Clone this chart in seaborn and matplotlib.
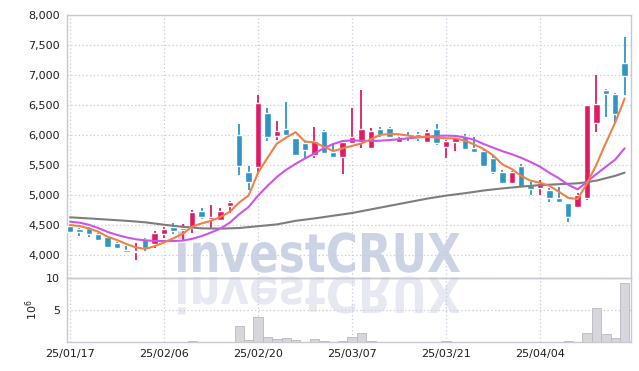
import numpy as np
import pandas as pd
import matplotlib
matplotlib.use("Agg")
import matplotlib.pyplot as plt
import seaborn as sns
from matplotlib.textpath import TextPath
from matplotlib.patches import PathPatch
from matplotlib.font_manager import FontProperties
import matplotlib.transforms as mtransforms
from matplotlib.ticker import FuncFormatter

dates = ["2025-01-17", "2025-01-20", "2025-01-21", "2025-01-22", "2025-01-23", "2025-01-24", "2025-01-31",
         "2025-02-03", "2025-02-04", "2025-02-05", "2025-02-06", "2025-02-07",
         "2025-02-10", "2025-02-11", "2025-02-12", "2025-02-13", "2025-02-14",
         "2025-02-17", "2025-02-18", "2025-02-19", "2025-02-20", "2025-02-21",
         "2025-02-24", "2025-02-25", "2025-02-26", "2025-02-27", "2025-02-28",
         "2025-03-04", "2025-03-05", "2025-03-06", "2025-03-07",
         "2025-03-10", "2025-03-11", "2025-03-12", "2025-03-13", "2025-03-14",
         "2025-03-17", "2025-03-18", "2025-03-19", "2025-03-20", "2025-03-21",
         "2025-03-24", "2025-03-25", "2025-03-26", "2025-03-27", "2025-03-28", "2025-03-31",
         "2025-04-01", "2025-04-02", "2025-04-03", "2025-04-04",
         "2025-04-07", "2025-04-08", "2025-04-09", "2025-04-10", "2025-04-11",
         "2025-04-14", "2025-04-15", "2025-04-16", "2025-04-17"]

opens = [4483, 4433, 4444, 4350, 4300, 4200, 4083, 4044, 4270, 4180,
         4350, 4460, 4410, 4456, 4733, 4606, 4589, 4822, 6000, 5389,
         5472, 6361, 5989, 6094, 5944, 5872, 5667, 6067, 5717, 5628,
         5861, 5889, 5789, 6094, 6111, 5889, 5989, 6017, 5889, 6094,
         5806, 5889, 5990, 5789, 5733, 5622, 5378, 5200, 5489, 5167,
         5111, 5083, 4944, 4861, 4794, 4944, 6194, 6750, 6683, 7206]
highs = [4500, 4445, 4460, 4367, 4322, 4222, 4155, 4194, 4289, 4400,
         4472, 4540, 4520, 4750, 4778, 4833, 4778, 4906, 6183, 5483,
         6667, 6456, 6239, 6556, 5944, 5889, 6139, 6083, 5861, 5917,
         6456, 6750, 6111, 6139, 6139, 5972, 6056, 6056, 6083, 6178,
         5917, 5983, 6010, 5972, 5761, 5667, 5417, 5395, 5511, 5222,
         5250, 5111, 5128, 4861, 5028, 6500, 7000, 6761, 6706, 7639]
lows = [4380, 4322, 4305, 4244, 4122, 4094, 4044, 3917, 4067, 4122,
        4278, 4350, 4239, 4372, 4594, 4444, 4583, 4706, 5333, 5083,
        5350, 5900, 5917, 5990, 5650, 5594, 5622, 5694, 5628, 5350,
        5861, 5778, 5778, 5972, 5944, 5889, 5906, 5906, 5878, 5833,
        5611, 5739, 5750, 5700, 5472, 5344, 5183, 5190, 5122, 5000,
        5000, 4889, 4861, 4544, 4778, 4917, 6044, 6294, 6194, 6667]
closes = [4390, 4390, 4344, 4255, 4139, 4122, 4055, 4070, 4120, 4370,
          4430, 4405, 4450, 4711, 4640, 4639, 4733, 4883, 5489, 5222,
          6528, 5972, 6067, 6000, 5667, 5750, 5900, 5706, 5640, 5889,
          5961, 6094, 6067, 6000, 5961, 5944, 5972, 5944, 6056, 5861,
          5900, 5961, 5767, 5722, 5489, 5378, 5200, 5378, 5139, 5100,
          5206, 4944, 4889, 4628, 5000, 6500, 6517, 6678, 6350, 6989]
volume_m = [0.05, 0.04, 0.04, 0.04, 0.04, 0.04, 0.04, 0.04, 0.05, 0.05,
            0.05, 0.05, 0.06, 0.2, 0.06, 0.06, 0.06, 0.1, 2.55, 0.36,
            3.9, 0.78, 0.47, 0.62, 0.3, 0.1, 0.47, 0.16, 0.05, 0.16,
            0.78, 1.4, 0.16, 0.1, 0.06, 0.05, 0.05, 0.05, 0.05, 0.06,
            0.16, 0.06, 0.05, 0.05, 0.06, 0.05, 0.05, 0.05, 0.05, 0.05,
            0.06, 0.05, 0.05, 0.16, 0.06, 1.4, 5.3, 1.25, 0.62, 9.2]
ma5 = [4500, 4483, 4444, 4389, 4304, 4250, 4183, 4128, 4101, 4147,
       4209, 4279, 4355, 4473, 4527, 4569, 4634, 4720, 4876, 4992,
       5370, 5618, 5856, 5958, 6047, 5891, 5877, 5805, 5733, 5777,
       5819, 5858, 5930, 6002, 6017, 6013, 5989, 5964, 5975, 5955,
       5947, 5944, 5909, 5842, 5767, 5663, 5511, 5433, 5317, 5239,
       5205, 5153, 5056, 4953, 4933, 5192, 5507, 5865, 6209, 6607]
ma20 = [4556, 4539, 4505, 4450, 4385, 4335, 4295, 4262, 4245, 4235,
        4233, 4233, 4240, 4270, 4315, 4375, 4440, 4540, 4680, 4800,
        4990, 5150, 5300, 5420, 5520, 5610, 5690, 5780, 5850, 5900,
        5910, 5905, 5900, 5905, 5915, 5930, 5945, 5960, 5970, 5985,
        5990, 5985, 5960, 5920, 5850, 5790, 5730, 5680, 5620, 5550,
        5472, 5370, 5280, 5170, 5094, 5220, 5350, 5470, 5590, 5778]
ma60 = [4628, 4619, 4610, 4600, 4590, 4580, 4570, 4558, 4545, 4525,
        4505, 4487, 4470, 4457, 4445, 4442, 4440, 4445, 4450, 4465,
        4480, 4495, 4510, 4540, 4570, 4590, 4610, 4632, 4655, 4677,
        4700, 4730, 4760, 4790, 4820, 4850, 4880, 4910, 4940, 4965,
        4990, 5010, 5030, 5052, 5075, 5093, 5110, 5125, 5140, 5153,
        5165, 5172, 5180, 5187, 5195, 5215, 5240, 5280, 5320, 5372]
price_ticks = [4000, 4500, 5000, 5500, 6000, 6500, 7000, 7500, 8000]
vol_ticks = [5, 10]
date_ticks = [0, 10, 20, 30, 40, 50]

df = pd.DataFrame({"date": pd.to_datetime(dates), "open": opens, "high": highs,
                   "low": lows, "close": closes, "vol": volume_m,
                   "ma5": ma5, "ma20": ma20, "ma60": ma60})
df["idx"] = np.arange(len(df))

sns.set_style("white")
plt.rcParams["font.family"] = ["DejaVu Sans"]

W, H = 639, 371
fig = plt.figure(figsize=(W / 100, H / 100), dpi=100)
fig.patch.set_facecolor("white")
ax = fig.add_axes([67 / W, 1 - 278 / H, 564 / W, 263 / H])
axv = fig.add_axes([67 / W, 1 - 342.3 / H, 564 / W, 64.3 / H], sharex=ax)
for a in (ax, axv):
    a.set_facecolor("none")

# watermark with reflection
fp = FontProperties(family="DejaVu Sans", weight="bold")
tp = TextPath((0, 0), "investCRUX", size=100, prop=fp)
bb = tp.get_extents()
cap = TextPath((0, 0), "X", size=100, prop=fp).get_extents().y1
sx = (460 - 178) / (bb.x1 - bb.x0)
t_main = mtransforms.Affine2D().translate(-bb.x0, 0).scale(sx, 39 / cap).translate(178, H - 272)
fig.add_artist(PathPatch(tp, transform=t_main, facecolor="#ccd3e5", edgecolor="none", zorder=-5))
t_ref = mtransforms.Affine2D().translate(-bb.x0, 0).scale(sx, -36 / cap).translate(178, H - 277)
fig.add_artist(PathPatch(tp, transform=t_ref, facecolor="#e6e9f1", edgecolor="none", zorder=-5))

up_c, dn_c = "#e21a63", "#2f95c6"
colors = [up_c if c >= o else dn_c for o, c in zip(df["open"], df["close"])]
body_lo = np.minimum(df["open"], df["close"])
body_h = np.maximum(np.abs(df["close"] - df["open"]), 12)
ax.vlines(df["idx"], df["low"], df["high"], colors=colors, lw=1.3, zorder=3)
ax.bar(df["idx"], body_h, bottom=body_lo, width=0.7, color=colors, zorder=4)

sns.lineplot(data=df, x="idx", y="ma60", ax=ax, color="#7d7d7d", lw=1.5, zorder=5)
sns.lineplot(data=df, x="idx", y="ma20", ax=ax, color="#cc55e8", lw=1.5, zorder=5)
sns.lineplot(data=df, x="idx", y="ma5", ax=ax, color="#ef8145", lw=1.5, zorder=6)

axv.bar(df["idx"], df["vol"], width=1.0, color="#d6d6dc", edgecolor="#b8b8c0", lw=0.6, zorder=3)

ax.set_xlim(-0.32, 59.68)
ax.set_ylim(3617, 8000)
axv.set_ylim(0, 10)

ax.set_yticks(price_ticks)
ax.yaxis.set_major_formatter(FuncFormatter(lambda v, p: f"{v:,.0f}"))
axv.set_yticks(vol_ticks)
axv.set_xticks(date_ticks)
axv.set_xticklabels([df["date"][i].strftime("%y/%m/%d") for i in date_ticks])
plt.setp(ax.get_xticklabels(), visible=False)

grid_kw = dict(color="#c9cbda", lw=0.9, ls=(0, (1, 2)))
for a in (ax, axv):
    a.grid(True, **grid_kw)
    a.set_axisbelow(True)
    a.tick_params(length=0, labelsize=8, colors="#1e1e1e", pad=5)
    for s in a.spines.values():
        s.set_visible(True)
        s.set_color("#c8c8d2")
        s.set_linewidth(1.0)
ax.set_xlabel("")
ax.set_ylabel("")
axv.set_xlabel("")
axv.set_ylabel("$10^6$", fontsize=8, color="#222222", labelpad=4)

fig.savefig("out.png", dpi=100)
